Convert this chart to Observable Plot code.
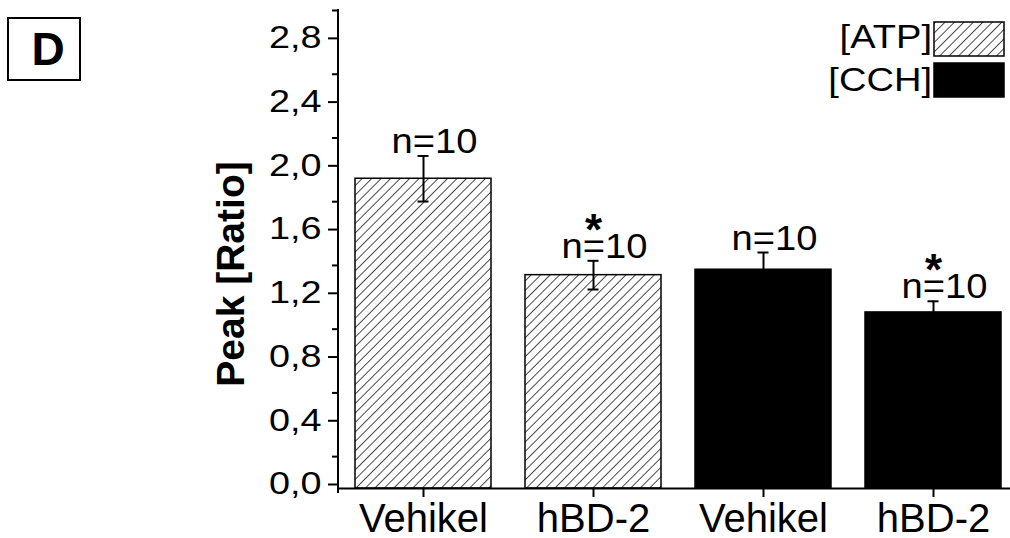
<!DOCTYPE html>
<html><head><meta charset="utf-8">
<script src="https://cdn.jsdelivr.net/npm/d3@7"></script>
<script src="https://cdn.jsdelivr.net/npm/@observablehq/plot@0.6"></script>
<style>body{margin:0;background:#fff;} svg{display:block}</style>
</head><body><div id="chart"></div>
<script>
const categories = ["Vehikel", "hBD-2", "Vehikel", "hBD-2"];
const groups = ["ATP", "ATP", "CCH", "CCH"];
const means = [1.944, 1.339, 1.373, 1.105];
const errors = [0.143, 0.090, 0.108, 0.070];
const nLabels = ["n=10", "n=10", "n=10", "n=10"];
const significant = [false, true, false, true];
const yTicks = [0, 0.4, 0.8, 1.2, 1.6, 2.0, 2.4, 2.8];
const yMinorTicks = [0.2, 0.6, 1.0, 1.4, 1.8, 2.2, 2.6, 3.0];
const legendLabels = ["[ATP]", "[CCH]"];
const yTitle = "Peak [Ratio]";
const panelLabel = "D";

const rows = categories.map((c, i) => ({
  i, category: c, group: groups[i], mean: means[i], err: errors[i], n: nLabels[i], sig: significant[i]
}));

const font = "'Liberation Sans', Arial, sans-serif";

const chart = Plot.plot({
  width: 1010, height: 538,
  marginLeft: 338, marginRight: 0, marginTop: 10, marginBottom: 50,
  style: {fontFamily: font, color: "black", background: "white", overflow: "visible"},
  x: {type: "band", domain: rows.map(d => d.i), range: [338, 1018], paddingInner: 0.2, paddingOuter: 0.1, axis: null},
  y: {domain: [0, 3], axis: null},
  marks: [
    Plot.barY(rows.filter(d => d.group === "ATP"), {x: "i", y: "mean", fill: "url(#hatch)", stroke: "black", strokeWidth: 1.5}),
    Plot.barY(rows.filter(d => d.group === "CCH"), {x: "i", y: "mean", fill: "black", stroke: "black", strokeWidth: 1.5}),
    Plot.ruleX(rows, {x: "i", y1: d => d.mean - d.err, y2: d => d.mean + d.err, stroke: "black", strokeWidth: 2}),
    Plot.tickY(rows, {x: "i", y: d => d.mean + d.err, stroke: "black", strokeWidth: 2, insetLeft: 62.5, insetRight: 62.5}),
    Plot.tickY(rows, {x: "i", y: d => d.mean - d.err, stroke: "black", strokeWidth: 2, insetLeft: 62.5, insetRight: 62.5}),
    Plot.text(rows, {x: "i", y: d => d.mean + d.err, text: "n", dx: 11, dy: -3, lineAnchor: "bottom", fontSize: 35, fill: "black"}),
    Plot.text(rows.filter(d => d.sig), {x: "i", y: d => d.mean + d.err, text: () => "*", dy: -16, lineAnchor: "bottom", fontSize: 44, fontWeight: "bold", fill: "black"}),
    Plot.axisY({ticks: yTicks, tickSize: 10, tickPadding: 7, tickFormat: d => d.toFixed(1).replace(".", ","), fontSize: 31, strokeWidth: 2, dy: -4, label: null}),
    Plot.axisY({ticks: yMinorTicks, tickSize: 6, tickFormat: () => "", strokeWidth: 2, label: null}),
    Plot.axisX({tickSize: 9, tickPadding: 6, tickFormat: i => categories[i], fontSize: 40, strokeWidth: 2, label: null}),
    Plot.ruleY([0], {stroke: "black", strokeWidth: 2}),
    (index, scales, values, dims) => {
      const l = d3.create("svg:line")
        .attr("x1", dims.marginLeft).attr("x2", dims.marginLeft)
        .attr("y1", scales.y(3) - 1).attr("y2", scales.y(0) + 5)
        .attr("stroke", "black").attr("stroke-width", 2);
      return l.node();
    }
  ]
});
document.getElementById("chart").appendChild(chart);

const svg = d3.select(chart);
const defs = svg.insert("defs", ":first-child");
const pat = defs.append("pattern").attr("id", "hatch").attr("patternUnits", "userSpaceOnUse")
  .attr("width", 6.7).attr("height", 6.7).attr("patternTransform", "rotate(45)");
pat.append("rect").attr("width", 6.7).attr("height", 6.7).attr("fill", "white");
pat.append("line").attr("x1", 0).attr("x2", 0).attr("y1", -1).attr("y2", 8).attr("stroke", "black").attr("stroke-width", 1.4);

const ov = svg.append("g").attr("font-family", font).attr("fill", "black");
// y title
ov.append("text").attr("transform", "translate(244,274) rotate(-90)")
  .attr("text-anchor", "middle").attr("font-size", 39).attr("font-weight", "bold").text(yTitle);
// panel label
ov.append("rect").attr("x", 8).attr("y", 18).attr("width", 72).attr("height", 62)
  .attr("fill", "white").attr("stroke", "black").attr("stroke-width", 2);
ov.append("text").attr("x", 48).attr("y", 65).attr("text-anchor", "middle")
  .attr("font-size", 46).attr("font-weight", "bold").text(panelLabel);
// legend
const legFill = ["url(#hatch)", "black"];
const legY = [22, 63];
const legBase = [48, 91];
legendLabels.forEach((lab, k) => {
  ov.append("rect").attr("x", 934).attr("y", legY[k]).attr("width", 70).attr("height", 34)
    .attr("fill", legFill[k]).attr("stroke", "black").attr("stroke-width", 1.5);
  ov.append("text").attr("class", "leg").attr("x", 932).attr("y", legBase[k]).attr("text-anchor", "end")
    .attr("font-size", 34).text(lab);
});

function stretch(sel, f) {
  sel.each(function () {
    const len = this.getComputedTextLength();
    if (len > 0) {
      this.setAttribute("textLength", len * f);
      this.setAttribute("lengthAdjust", "spacingAndGlyphs");
    }
  });
}
stretch(svg.selectAll("g[aria-label='y-axis tick label'] text"), 1.22);
stretch(svg.selectAll("g[aria-label='text'] text").filter(function(){return this.textContent.startsWith("n=");}), 1.09);
stretch(svg.selectAll("text.leg"), 1.12);
</script>
</body></html>
